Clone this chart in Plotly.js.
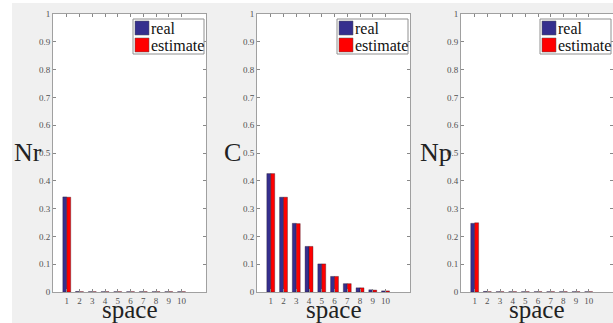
<!DOCTYPE html>
<html><head><meta charset="utf-8">
<script src="https://cdn.plot.ly/plotly-3.0.1.min.js"></script>
<style>html,body{margin:0;padding:0;background:#fff}</style>
</head><body>
<div id="chart" style="width:613px;height:323px"></div>
<script>
const spaces = [1,2,3,4,5,6,7,8,9,10];
const panelLabels = ['Nr','C','Np'];
const nrReal = [0.342,0.002,0.001,0.001,0.001,0.001,0.001,0.001,0.001,0.001];
const nrEst  = [0.341,0.001,0.001,0.001,0.001,0.001,0.001,0.001,0.001,0.001];
const cReal  = [0.426,0.341,0.247,0.164,0.101,0.056,0.030,0.015,0.008,0.004];
const cEst   = [0.426,0.341,0.246,0.164,0.101,0.056,0.030,0.015,0.007,0.004];
const npReal = [0.247,0.002,0.001,0.001,0.001,0.001,0.001,0.001,0.001,0.001];
const npEst  = [0.249,0.001,0.001,0.001,0.001,0.001,0.001,0.001,0.001,0.001];
const yTicks = [0,0.1,0.2,0.3,0.4,0.5,0.6,0.7,0.8,0.9,1];
const yTickText = ['0','0.1','0.2','0.3','0.4','0.5','0.6','0.7','0.8','0.9','1'];
const seriesNames = ['real','estimate'];

const W = 613, H = 323;
const BLUE = '#352f8e', RED = '#ff0000';
const SERIF = 'Liberation Serif, Times New Roman, serif';
const panels = [[53,206],[257,410],[461,613]];
const yTop = 14, yBot = 292;
const data = [[nrReal,nrEst],[cReal,cEst],[npReal,npEst]];

const traces = [];
data.forEach((pair, i) => {
  const ax = i===0 ? '' : String(i+1);
  pair.forEach((vals, j) => {
    traces.push({
      type:'bar', x: spaces, y: vals, name: seriesNames[j],
      xaxis:'x'+ax, yaxis:'y'+ax, showlegend:false,
      marker:{color: j===0?BLUE:RED, line:{color:'rgba(40,20,40,0.6)', width:0.6}}
    });
  });
});

const layout = {
  width:W, height:H, margin:{l:0,r:0,t:0,b:0},
  paper_bgcolor:'#f0f0f0', plot_bgcolor:'#ffffff',
  barmode:'group', bargap:0.38, bargroupgap:0,
  showlegend:false, shapes:[], annotations:[]
};
layout.shapes.push({type:'rect',xref:'paper',yref:'paper',x0:0,x1:1,y0:1-3/H,y1:1,fillcolor:'#fff',line:{width:0},layer:'below'});
layout.shapes.push({type:'rect',xref:'paper',yref:'paper',x0:0,x1:12/W,y0:0,y1:1,fillcolor:'#fff',line:{width:0},layer:'below'});

panels.forEach((p, i) => {
  const ax = i===0 ? '' : String(i+1);
  const pw = p[1]-p[0], ph = yBot-yTop;
  layout['xaxis'+ax] = {
    domain:[p[0]/W, Math.min(1,p[1]/W)], range:[-0.08,11.92], anchor:'y'+ax,
    tickvals: spaces, ticktext: spaces.map(String), ticks:'inside', ticklen:3,
    tickcolor:'#888', showline:true, linecolor:'#a0a0a0', linewidth:1, mirror:'ticks',
    showgrid:false, zeroline:false, tickfont:{family:SERIF,size:9,color:'#505050'}, fixedrange:true
  };
  layout['yaxis'+ax] = {
    domain:[1-yBot/H, 1-yTop/H], range:[0,1], anchor:'x'+ax,
    tickvals: yTicks, ticktext: yTickText, ticks:'inside', ticklen:3,
    tickcolor:'#888', showline:true, linecolor:'#a0a0a0', linewidth:1, mirror:'ticks',
    showgrid:false, zeroline:false, tickfont:{family:SERIF,size:9,color:'#505050'}, fixedrange:true
  };
  layout.annotations.push({xref:'paper',yref:'paper',x:(p[0]-25)/W,y:1-153/H,xanchor:'center',yanchor:'middle',
    text:panelLabels[i],showarrow:false,font:{family:SERIF,size:26,color:'#222'}});
  layout.annotations.push({xref:'paper',yref:'paper',x:((p[0]+p[1])/2)/W,y:1-309/H,xanchor:'center',yanchor:'middle',
    text:'space',showarrow:false,font:{family:SERIF,size:25,color:'#222'}});
  const xr = 'x'+ax+' domain', yr = 'y'+ax+' domain';
  const bx0 = pw-73, bx1 = pw-2, by0 = 5, by1 = 40;
  const fx = v => v/pw, fy = v => 1 - v/ph;
  layout.shapes.push({type:'rect',xref:xr,yref:yr,x0:fx(bx0),x1:fx(bx1),y0:fy(by1),y1:fy(by0),fillcolor:'#fff',line:{color:'#909090',width:1}});
  [BLUE,RED].forEach((c,k)=>{
    const top = by0+2+k*17;
    layout.shapes.push({type:'rect',xref:xr,yref:yr,x0:fx(bx0+2),x1:fx(bx0+16),y0:fy(top+14),y1:fy(top),fillcolor:c,line:{color:'#555',width:0.5}});
    layout.annotations.push({xref:xr,yref:yr,x:fx(bx0+16),y:fy(top+7),xanchor:'left',yanchor:'middle',
      text:seriesNames[k],showarrow:false,font:{family:SERIF,size:16,color:'#111'}});
  });
});

Plotly.newPlot('chart', traces, layout, {displayModeBar:false, staticPlot:true});
</script>
</body></html>
